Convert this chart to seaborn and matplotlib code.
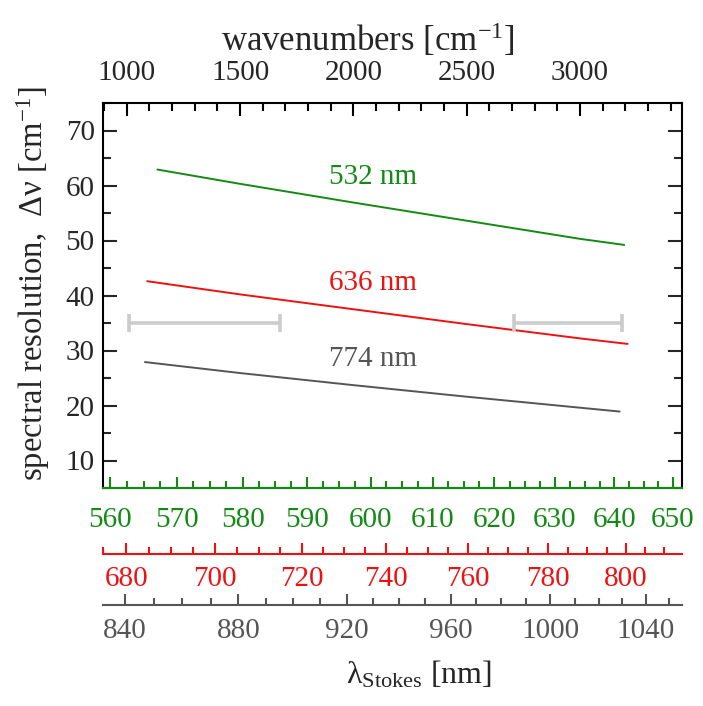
import numpy as np
import pandas as pd
import seaborn as sns
import matplotlib
matplotlib.use("Agg")
import matplotlib.pyplot as plt
from matplotlib.ticker import MultipleLocator, FixedLocator

# spectral resolution (cm-1) vs Raman shift (cm-1)
nu_532  = [1135, 1500, 2000, 2500, 3000, 3195]
res_532 = [62.9, 60.3, 56.9, 53.6, 50.3, 49.2]
nu_636  = [1090, 1500, 2000, 2500, 3000, 3210]
res_636 = [42.6, 40.2, 37.5, 34.8, 32.2, 31.2]
nu_774  = [1080, 1500, 2000, 2500, 3000, 3175]
res_774 = [27.9, 25.9, 23.7, 21.6, 19.6, 18.9]

# grey range bars (fingerprint / CH-stretch windows)
range_lo = [1010, 2710]
range_hi = [1675, 3185]
range_y  = [35, 35]

# lambda axes under the plot: two calibration points each (nm, cm-1 on top axis)
cal_532 = [(560, 926), (650, 3410)]
cal_636 = [(680, 997), (800, 3203)]
cal_774 = [(840, 992), (1040, 3291)]

# labelled ticks
ticks_532 = [560, 570, 580, 590, 600, 610, 620, 630, 640, 650]
ticks_636 = [680, 700, 720, 740, 760, 780, 800]
ticks_774 = [840, 880, 920, 960, 1000, 1040]
ticks_nu  = [1000, 1500, 2000, 2500, 3000]
ticks_res = [10, 20, 30, 40, 50, 60, 70]

GREEN = "#138a13"
RED   = "#ee1111"
GREY  = "#555555"
BAR   = "#cccccc"
SERIF = "Liberation Serif"


def lam_funcs(cal):
    (l0, n0), (l1, n1) = cal
    k = (n1 - n0) / np.log(l1 / l0)

    def fwd(nu):
        return l0 * np.exp((np.asarray(nu, dtype=float) - n0) / k)

    def inv(lam):
        with np.errstate(divide="ignore", invalid="ignore"):
            return n0 + k * np.log(np.asarray(lam, dtype=float) / l0)

    return fwd, inv


sns.set_theme(style="ticks")
plt.rcParams["font.family"] = "serif"
plt.rcParams["font.serif"] = [SERIF, "DejaVu Serif"]
plt.rcParams["mathtext.fontset"] = "custom"
plt.rcParams["mathtext.rm"] = SERIF
plt.rcParams["mathtext.it"] = SERIF + ":italic"
plt.rcParams["mathtext.bf"] = SERIF + ":bold"

df = pd.concat([
    pd.DataFrame({"nu": nu_532, "res": res_532, "laser": "532 nm"}),
    pd.DataFrame({"nu": nu_636, "res": res_636, "laser": "636 nm"}),
    pd.DataFrame({"nu": nu_774, "res": res_774, "laser": "774 nm"}),
])
colors = {"532 nm": GREEN, "636 nm": RED, "774 nm": GREY}

fig = plt.figure(figsize=(7.03, 7.06), dpi=100)
ax = fig.add_axes([103 / 703, 218 / 706, 579 / 703, 385 / 706])

sns.lineplot(data=df, x="nu", y="res", hue="laser", palette=colors,
             lw=1.4, legend=False, ax=ax)

# range bars with caps
lo = np.array(range_lo)
hi = np.array(range_hi)
ax.errorbar((lo + hi) / 2, range_y, xerr=(hi - lo) / 2, fmt="none",
            ecolor=BAR, elinewidth=2.6, capsize=6.8, capthick=2.6)

# line labels
ax.text(2086, 61.6, "532 nm", color=GREEN, fontsize=21, ha="center", va="center")
ax.text(2086, 42.3, "636 nm", color=RED, fontsize=21, ha="center", va="center")
ax.text(2086, 28.4, "774 nm", color=GREY, fontsize=21, ha="center", va="center")

ax.set_xlim(895, 3450)
ax.set_ylim(5, 75)

for s in ax.spines.values():
    s.set_linewidth(1.5)
    s.set_color("black")
ax.spines["bottom"].set_color(GREEN)

# top wavenumber axis
ax.xaxis.set_ticks_position("top")
ax.xaxis.set_label_position("top")
ax.xaxis.set_major_locator(FixedLocator(ticks_nu))
ax.xaxis.set_minor_locator(MultipleLocator(100))
ax.tick_params(axis="x", which="both", direction="in", top=True, bottom=False,
               labeltop=True, labelbottom=False, labelsize=21, pad=12,
               width=1.5, color="black", labelfontfamily=SERIF)
ax.tick_params(axis="x", which="major", length=9)
ax.tick_params(axis="x", which="minor", length=6)
ax.set_xlabel(r"wavenumbers [cm$^{\mathregular{-1}}$]", fontsize=25)
ax.xaxis.set_label_coords(0.458, 1.135)

# y axis
ax.yaxis.set_major_locator(FixedLocator(ticks_res))
ax.yaxis.set_minor_locator(MultipleLocator(5))
ax.tick_params(axis="y", which="both", direction="in", left=True, right=True,
               labelsize=21, pad=6, width=1.5, labelfontfamily=SERIF)
ax.tick_params(axis="y", which="major", length=10)
ax.tick_params(axis="y", which="minor", length=6)
ax.set_ylabel("spectral resolution,  Δν [cm$^{\\mathregular{-1}}$]", fontsize=23.5)
ax.yaxis.set_label_coords(-0.088, 0.53)

# wavelength axes for the three lasers
axes_spec = [
    (cal_532, 0.0, GREEN, ticks_532, 2.5, 14),
    (cal_636, -66 / 385, RED, ticks_636, 5, 9),
    (cal_774, -117 / 385, GREY, ticks_774, 10, 9),
]
for cal, loc, c, major, minor, pad in axes_spec:
    sec = ax.secondary_xaxis(loc, functions=lam_funcs(cal))
    sec.spines["bottom"].set_color(c)
    sec.spines["bottom"].set_linewidth(1.5)
    sec.xaxis.set_major_locator(FixedLocator(major))
    sec.xaxis.set_minor_locator(MultipleLocator(minor))
    sec.tick_params(axis="x", which="both", direction="in", colors=c,
                    labelsize=21, pad=pad, width=1.5, labelfontfamily=SERIF)
    sec.tick_params(axis="x", which="major", length=8)
    sec.tick_params(axis="x", which="minor", length=5)

fig.text(419 / 703, 1 - 675 / 706, r"$\mathregular{\lambda_{Stokes}}$ [nm]",
         fontsize=23, ha="center", va="center")

fig.savefig("out.png", dpi=100)
